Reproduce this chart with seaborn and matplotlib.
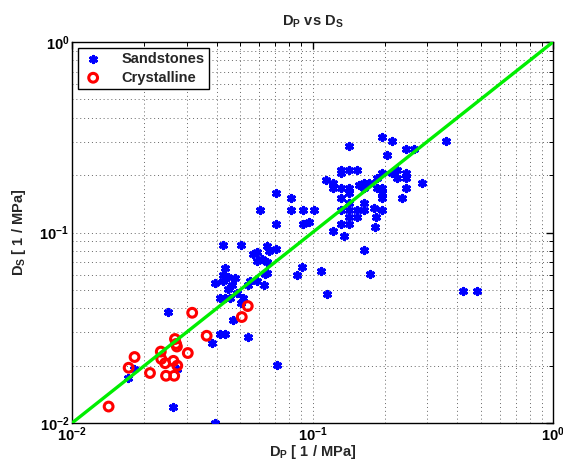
import numpy as np
import pandas as pd
import matplotlib
matplotlib.use("Agg")
import matplotlib.pyplot as plt
import seaborn as sns
from matplotlib.ticker import LogLocator, NullFormatter

# ---- data ----
sand_dp = [0.194, 0.215, 0.142, 0.358, 0.245, 0.265, 0.204, 0.132, 0.132, 0.142,
           0.153, 0.194, 0.215, 0.225, 0.245, 0.245, 0.225, 0.114, 0.122, 0.122,
           0.132, 0.142, 0.142, 0.156, 0.163, 0.163, 0.172, 0.185, 0.185, 0.194,
           0.194, 0.194, 0.245, 0.286, 0.236, 0.132, 0.142, 0.132, 0.142, 0.153,
           0.163, 0.163, 0.181, 0.194, 0.142, 0.153, 0.184, 0.132, 0.142, 0.182,
           0.122, 0.135, 0.0707, 0.0812, 0.0607, 0.0812, 0.0913, 0.101, 0.0707, 0.0913,
           0.0964, 0.163, 0.173, 0.115, 0.1085, 0.0905, 0.0862, 0.0423, 0.0503, 0.0647,
           0.0658, 0.0707, 0.0586, 0.0567, 0.0617, 0.0586, 0.0647, 0.0647, 0.0635, 0.0434,
           0.0423, 0.0444, 0.0476, 0.0423, 0.0393, 0.0461, 0.0447, 0.0550, 0.0590, 0.0538,
           0.0627, 0.0487, 0.0413, 0.0433, 0.0454, 0.0516, 0.0503, 0.0251, 0.0466, 0.0383,
           0.0413, 0.0433, 0.0538, 0.0181, 0.0171, 0.0273, 0.0262, 0.0393, 0.0710, 0.421,
           0.483]
sand_ds = [0.316, 0.303, 0.285, 0.303, 0.273, 0.273, 0.254, 0.213, 0.205, 0.213,
           0.213, 0.205, 0.205, 0.213, 0.205, 0.1925, 0.1925, 0.189, 0.183, 0.172,
           0.172, 0.172, 0.162, 0.177, 0.183, 0.172, 0.183, 0.1925, 0.172, 0.172,
           0.162, 0.152, 0.172, 0.183, 0.152, 0.152, 0.142, 0.132, 0.132, 0.132,
           0.142, 0.132, 0.134, 0.132, 0.121, 0.121, 0.121, 0.111, 0.111, 0.107,
           0.1015, 0.0962, 0.162, 0.152, 0.132, 0.132, 0.132, 0.132, 0.111, 0.111,
           0.114, 0.0812, 0.0608, 0.0476, 0.0628, 0.0659, 0.0598, 0.0860, 0.0860, 0.0852,
           0.0803, 0.0822, 0.0787, 0.0768, 0.0729, 0.0709, 0.0698, 0.0615, 0.0603, 0.0649,
           0.0598, 0.0586, 0.0579, 0.0554, 0.0545, 0.0527, 0.0505, 0.0554, 0.0554, 0.0527,
           0.0527, 0.0483, 0.0455, 0.0455, 0.0455, 0.0455, 0.0425, 0.0384, 0.0347, 0.0263,
           0.0293, 0.0293, 0.0282, 0.0193, 0.0173, 0.0191, 0.0122, 0.0100, 0.0202, 0.0495,
           0.0495]

cryst_dp = [0.0142, 0.0172, 0.0182, 0.0211, 0.0234, 0.0235, 0.0244, 0.0246, 0.0264, 0.0266,
            0.0268, 0.0271, 0.0273, 0.0274, 0.0303, 0.0316, 0.0363, 0.0508, 0.0538]
cryst_ds = [0.0122, 0.0195, 0.0222, 0.0183, 0.0237, 0.0217, 0.0206, 0.0177, 0.0212, 0.0177,
            0.0276, 0.0260, 0.0252, 0.0200, 0.0233, 0.0379, 0.0287, 0.0360, 0.0411]

line_x = [0.01, 1.0]
line_y = [0.01, 1.0]

labels = ["Sandstones", "Crystalline"]
title = r"$D_P$ vs $D_S$"
xlab = r"$D_P$ [ 1 / MPa]"
ylab = r"$D_S$ [ 1 / MPa]"

# ---- style ----
sns.set_style("white")
plt.rcParams["font.family"] = ["Liberation Sans", "DejaVu Sans"]
plt.rcParams["font.weight"] = "bold"
plt.rcParams["mathtext.fontset"] = "custom"
plt.rcParams["mathtext.rm"] = "Liberation Sans:bold"
plt.rcParams["mathtext.it"] = "Liberation Sans:bold"
plt.rcParams["mathtext.bf"] = "Liberation Sans:bold"
plt.rcParams["mathtext.default"] = "rm"

sand = pd.DataFrame({"DP": sand_dp, "DS": sand_ds})
cryst = pd.DataFrame({"DP": cryst_dp, "DS": cryst_ds})

fig = plt.figure(figsize=(5.63, 4.63), dpi=100)
ax = fig.add_axes([72 / 563, 40 / 463, 481 / 563, 381 / 463])
ax.set_xscale("log")
ax.set_yscale("log")

sns.scatterplot(data=sand, x="DP", y="DS", ax=ax, marker=(6, 2, 0), s=20,
                color="#0000ff", edgecolor="#0000ff", linewidth=2.2,
                label=labels[0], zorder=3)
sns.scatterplot(data=cryst, x="DP", y="DS", ax=ax, marker="o", s=40,
                facecolor="none", edgecolor="#ff0000", linewidth=2.2,
                label=labels[1], zorder=3)
sns.lineplot(x=line_x, y=line_y, ax=ax, color="#00ee00", linewidth=2.4,
             zorder=4, legend=False)

ax.set_xlim(0.01, 1)
ax.set_ylim(0.01, 1)

for axis in (ax.xaxis, ax.yaxis):
    axis.set_major_locator(LogLocator(base=10, numticks=10))
    axis.set_minor_locator(LogLocator(base=10, subs=np.arange(2, 10), numticks=20))
    axis.set_minor_formatter(NullFormatter())

ax.grid(True, which="both", linestyle=(0, (1, 3)), color="#666666", linewidth=0.7)
ax.tick_params(which="both", direction="in", top=True, right=True,
               labelsize=10.5, colors="black", pad=2)
ax.tick_params(which="major", length=5, width=1)
ax.tick_params(which="minor", length=3, width=0.7)
for sp in ax.spines.values():
    sp.set_color("black")
    sp.set_linewidth(1.0)

ax.set_title(title, fontsize=10.5, fontweight="bold", pad=12)
ax.set_xlabel(xlab, fontsize=10.5, fontweight="bold", labelpad=-1)
ax.set_ylabel(ylab, fontsize=10.5, fontweight="bold", labelpad=8)

leg = ax.legend(loc="upper left", frameon=True, fancybox=False, framealpha=1,
                edgecolor="black", prop={"weight": "bold", "size": 10.5},
                borderaxespad=0.4, handletextpad=1.2, borderpad=0.3,
                labelspacing=0.3, handlelength=1.5)
leg.get_frame().set_linewidth(1.0)

fig.savefig("out.png", dpi=100)
